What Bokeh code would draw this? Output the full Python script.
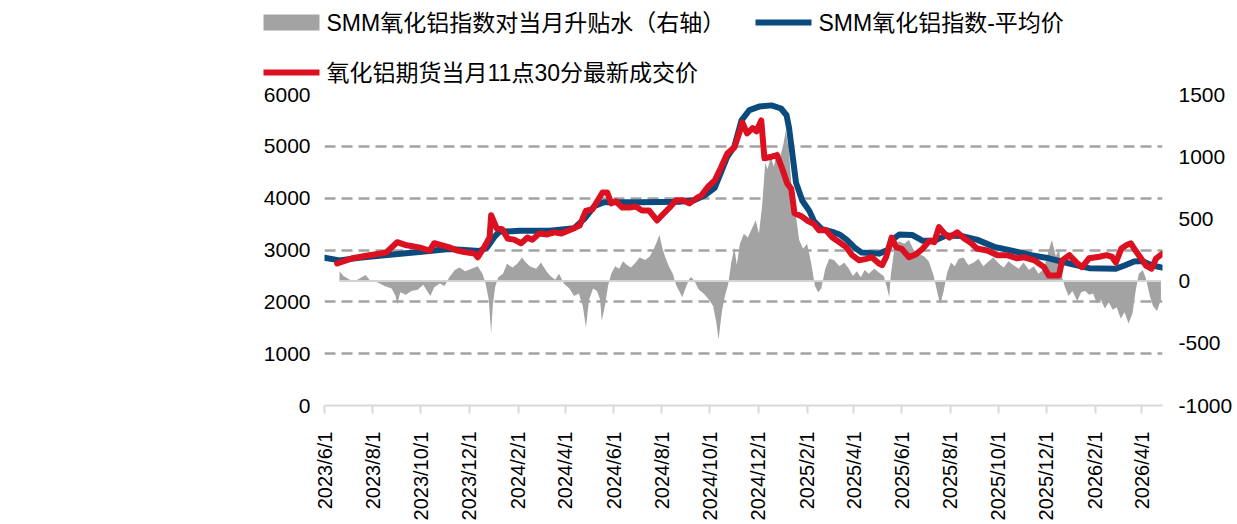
import math
import pandas as pd
from bokeh.plotting import figure
from bokeh.layouts import column
from bokeh.models import (ColumnDataSource, Range1d, LinearAxis, FixedTicker, Label,
                          BoxAnnotation, CustomJSTickFormatter)
from bokeh.embed import file_html
from bokeh.resources import INLINE

# ---------------- data ----------------
basis_dates = [
    "2023-06-20", "2023-06-25", "2023-07-03", "2023-07-10", "2023-07-18", "2023-07-23", "2023-07-28",
    "2023-08-07", "2023-08-16", "2023-08-25", "2023-08-30", "2023-09-01", "2023-09-05", "2023-09-12",
    "2023-09-19", "2023-09-27", "2023-10-04", "2023-10-09", "2023-10-13", "2023-10-18", "2023-10-25",
    "2023-10-31", "2023-11-06", "2023-11-13", "2023-11-19", "2023-11-26", "2023-12-04", "2023-12-12",
    "2023-12-18", "2023-12-22", "2023-12-26", "2023-12-29", "2023-12-31", "2024-01-03", "2024-01-07",
    "2024-01-13", "2024-01-18", "2024-01-25", "2024-01-31", "2024-02-06", "2024-02-11", "2024-02-16",
    "2024-02-24", "2024-03-01", "2024-03-08", "2024-03-13", "2024-03-19", "2024-03-24", "2024-03-30",
    "2024-04-06", "2024-04-12", "2024-04-18", "2024-04-23", "2024-04-27", "2024-05-01", "2024-05-06",
    "2024-05-11", "2024-05-15", "2024-05-17", "2024-05-21", "2024-05-25", "2024-05-29", "2024-06-03",
    "2024-06-08", "2024-06-13", "2024-06-18", "2024-06-23", "2024-06-29", "2024-07-04", "2024-07-11",
    "2024-07-17", "2024-07-22", "2024-07-26", "2024-07-29", "2024-08-02", "2024-08-05", "2024-08-10",
    "2024-08-15", "2024-08-19", "2024-08-23", "2024-08-27", "2024-08-31", "2024-09-05", "2024-09-08",
    "2024-09-13", "2024-09-17", "2024-09-23", "2024-09-30", "2024-10-05", "2024-10-09", "2024-10-12",
    "2024-10-16", "2024-10-20", "2024-10-24", "2024-10-28", "2024-11-01", "2024-11-04", "2024-11-08",
    "2024-11-13", "2024-11-18", "2024-11-23", "2024-11-28", "2024-12-02", "2024-12-06", "2024-12-10",
    "2024-12-13", "2024-12-17", "2024-12-21", "2024-12-25", "2024-12-29", "2025-01-02", "2025-01-05",
    "2025-01-09", "2025-01-13", "2025-01-18", "2025-01-22", "2025-01-27", "2025-02-01", "2025-02-06",
    "2025-02-11", "2025-02-15", "2025-02-19", "2025-02-24", "2025-03-01", "2025-03-07", "2025-03-14",
    "2025-03-20", "2025-03-26", "2025-03-31", "2025-04-05", "2025-04-10", "2025-04-15", "2025-04-20",
    "2025-04-27", "2025-05-03", "2025-05-09", "2025-05-13", "2025-05-16", "2025-05-18", "2025-05-23",
    "2025-05-28", "2025-06-04", "2025-06-10", "2025-06-16", "2025-06-22", "2025-06-29", "2025-07-05",
    "2025-07-11", "2025-07-18", "2025-07-20", "2025-07-24", "2025-07-28", "2025-08-02", "2025-08-07",
    "2025-08-12", "2025-08-18", "2025-08-24", "2025-08-31", "2025-09-06", "2025-09-12", "2025-09-19",
    "2025-09-25", "2025-10-02", "2025-10-08", "2025-10-14", "2025-10-20", "2025-10-27", "2025-11-02",
    "2025-11-09", "2025-11-15", "2025-11-21", "2025-11-28", "2025-12-04", "2025-12-08", "2025-12-13",
    "2025-12-17", "2025-12-21", "2025-12-24", "2025-12-29", "2026-01-03", "2026-01-09", "2026-01-14",
    "2026-01-19", "2026-01-24", "2026-01-29", "2026-02-03", "2026-02-08", "2026-02-13", "2026-02-18",
    "2026-02-23", "2026-02-28", "2026-03-05", "2026-03-10", "2026-03-15", "2026-03-20", "2026-03-24",
    "2026-03-28", "2026-04-02", "2026-04-06", "2026-04-11", "2026-04-15", "2026-04-20", "2026-04-25",
]
basis_values = [
    80, 40, 10, 0, 30, 50, 10,
    -10, -40, -60, -120, -190, -90, -110,
    -80, -70, -30, -80, -120, -50, -20,
    -40, 30, 90, 110, 80, 100, 120,
    60, -20, -150, -420, -200, -50, 30,
    60, 140, 110, 140, 190, 150, 120,
    100, 150, 80, 40, 10, 60, -20,
    -60, -120, -100, -200, -370, -150, -60,
    -80, -150, -320, -200, -40, 60, 120,
    100, 160, 130, 110, 150, 190, 170,
    200, 260, 320, 370, 260, 200, 120,
    60, -30, -80, -130, -60, 20, 30,
    -20, -70, -100, -150, -200, -330, -470,
    -250, -120, -30, 150, 270, 130, 300,
    380, 350, 420, 490, 380, 600, 950,
    900, 1000, 920, 1050, 1000, 1100, 1210,
    1050, 700, 520, 330, 260, 300, 150,
    -40, -90, -60, 100, 180, 170, 120,
    150, 100, 40, 80, 30, 90, 60,
    100, 70, 40, -50, -130, 50, 280,
    320, 300, 330, 250, 220, 200, 160,
    50, -150, -180, -80, 60, 150, 120,
    180, 190, 130, 150, 180, 120, 160,
    190, 140, 110, 160, 130, 100, 150,
    90, 120, 60, 100, 250, 330, 200,
    260, 30, -40, -120, -80, -160, -90,
    -80, -110, -100, -180, -150, -220, -170,
    -230, -210, -300, -250, -340, -260, -80,
    60, 90, 20, -120, -200, -240, -150,
]

avg_dates = [
    "2023-06-01", "2023-06-20", "2023-07-15", "2023-08-16", "2023-09-29", "2023-10-24", "2023-11-06",
    "2023-11-25", "2023-12-14", "2023-12-24", "2024-01-02", "2024-01-08", "2024-02-03", "2024-03-12",
    "2024-03-31", "2024-04-12", "2024-04-25", "2024-05-08", "2024-05-20", "2024-07-04", "2024-08-23",
    "2024-09-11", "2024-09-24", "2024-10-07", "2024-10-15", "2024-10-23", "2024-11-01", "2024-11-10",
    "2024-11-20", "2024-12-03", "2024-12-18", "2024-12-30", "2025-01-06", "2025-01-09", "2025-01-13",
    "2025-01-18", "2025-01-26", "2025-02-04", "2025-02-10", "2025-02-20", "2025-03-05", "2025-03-14",
    "2025-03-23", "2025-04-02", "2025-04-11", "2025-05-03", "2025-05-14", "2025-05-20", "2025-05-29",
    "2025-06-14", "2025-06-27", "2025-07-12", "2025-07-27", "2025-08-15", "2025-09-04", "2025-09-26",
    "2025-10-17", "2025-11-12", "2025-12-04", "2025-12-30", "2026-01-24", "2026-02-27", "2026-03-10",
    "2026-03-22", "2026-04-01", "2026-04-14", "2026-04-27",
]
avg_values = [
    2850, 2800, 2850, 2900, 2960, 3000, 3020,
    3000, 2980, 3050, 3250, 3350, 3370, 3370,
    3400, 3420, 3600, 3850, 3920, 3920, 3930,
    3960, 4050, 4200, 4500, 4800, 5000, 5500,
    5700, 5770, 5790, 5730, 5600, 5370, 4900,
    4300, 3950, 3750, 3550, 3400, 3350, 3300,
    3200, 3050, 2950, 2930, 3000, 3200, 3300,
    3290, 3180, 3180, 3280, 3270, 3200, 3060,
    2990, 2900, 2840, 2740, 2650, 2640, 2700,
    2780, 2790, 2700, 2660,
]

fut_dates = [
    "2023-06-17", "2023-07-06", "2023-07-28", "2023-08-18", "2023-09-01", "2023-09-13", "2023-09-29",
    "2023-10-12", "2023-10-18", "2023-10-28", "2023-11-06", "2023-11-16", "2023-11-25", "2023-12-08",
    "2023-12-12", "2023-12-20", "2023-12-27", "2023-12-29", "2024-01-05", "2024-01-12", "2024-01-19",
    "2024-01-27", "2024-02-05", "2024-02-13", "2024-02-19", "2024-02-28", "2024-03-09", "2024-03-18",
    "2024-03-27", "2024-04-06", "2024-04-19", "2024-04-27", "2024-05-05", "2024-05-18", "2024-05-24",
    "2024-05-29", "2024-06-04", "2024-06-12", "2024-06-21", "2024-06-29", "2024-07-07", "2024-07-16",
    "2024-07-26", "2024-08-02", "2024-08-11", "2024-08-19", "2024-08-27", "2024-09-05", "2024-09-15",
    "2024-09-20", "2024-09-28", "2024-10-07", "2024-10-15", "2024-10-23", "2024-11-01", "2024-11-07",
    "2024-11-11", "2024-11-17", "2024-11-24", "2024-11-29", "2024-12-05", "2024-12-09", "2024-12-18",
    "2024-12-25", "2024-12-31", "2025-01-07", "2025-01-12", "2025-01-16", "2025-01-25", "2025-02-01",
    "2025-02-10", "2025-02-16", "2025-02-25", "2025-03-05", "2025-03-14", "2025-03-23", "2025-03-30",
    "2025-04-08", "2025-04-17", "2025-04-24", "2025-05-03", "2025-05-07", "2025-05-12", "2025-05-19",
    "2025-05-25", "2025-06-01", "2025-06-10", "2025-06-19", "2025-06-27", "2025-07-06", "2025-07-12",
    "2025-07-18", "2025-07-25", "2025-07-31", "2025-08-06", "2025-08-10", "2025-08-19", "2025-08-28",
    "2025-09-04", "2025-09-17", "2025-09-30", "2025-10-12", "2025-10-25", "2025-11-03", "2025-11-16",
    "2025-11-28", "2025-12-04", "2025-12-17", "2025-12-21", "2025-12-30", "2026-01-08", "2026-01-15",
    "2026-01-24", "2026-02-06", "2026-02-15", "2026-02-22", "2026-02-27", "2026-03-06", "2026-03-12",
    "2026-03-18", "2026-03-22", "2026-03-28", "2026-04-06", "2026-04-13", "2026-04-19", "2026-04-27",
]
fut_values = [
    2740, 2840, 2900, 2950, 3150, 3090, 3050,
    2990, 3130, 3090, 3050, 2990, 2960, 2930,
    2860, 3050, 3240, 3670, 3420, 3400, 3220,
    3200, 3130, 3240, 3200, 3320, 3300, 3340,
    3320, 3380, 3470, 3760, 3780, 4110, 4110,
    3900, 3940, 3820, 3820, 3840, 3760, 3760,
    3570, 3680, 3820, 3960, 3960, 3900, 4010,
    4050, 4210, 4340, 4590, 4860, 4980, 5250,
    5460, 5250, 5350, 5290, 5500, 4770, 4800,
    4830, 4590, 4280, 4180, 3710, 3650, 3570,
    3500, 3380, 3380, 3240, 3150, 3050, 2900,
    2800, 2830, 2860, 2740, 2710, 2860, 3240,
    3050, 3020, 2860, 2920, 3020, 3180, 3150,
    3440, 3320, 3240, 3300, 3340, 3220, 3130,
    3030, 2990, 2900, 2900, 2840, 2860, 2800,
    2670, 2510, 2510, 2800, 2900, 2760, 2670,
    2840, 2870, 2900, 2870, 2760, 3030, 3090,
    3130, 3030, 2900, 2700, 2640, 2840, 2930,
]

x_tick_dates = pd.date_range("2023-06-01", "2026-04-01", freq="2MS")
left_ticks = [0, 1000, 2000, 3000, 4000, 5000, 6000]
right_ticks = [-1000, -500, 0, 500, 1000, 1500]

label_basis = "SMM氧化铝指数对当月升贴水（右轴）"
label_avg = "SMM氧化铝指数-平均价"
label_fut = "氧化铝期货当月11点30分最新成交价"

# ---------------- style ----------------
FONT = "Liberation Sans, Noto Sans CJK SC"
GRAY = "#a3a3a3"
BLUE = "#0b4a7c"
RED = "#db1020"

# ---------------- legend strip (own small figure, pixel units, y up) ----------------
LEG_W, LEG_H = 1150, 84
leg_fig = figure(width=LEG_W, height=LEG_H, x_range=Range1d(0, LEG_W), y_range=Range1d(0, LEG_H),
                 x_axis_type=None, y_axis_type=None, min_border=0,
                 output_backend="svg", toolbar_location=None)
leg_fig.outline_line_color = None
leg_fig.xgrid.visible = False
leg_fig.ygrid.visible = False
try:
    leg_fig.frame_align = False
except Exception:
    pass

ROW1 = LEG_H - 22   # centre line of legend row 1
ROW2 = LEG_H - 72   # centre line of legend row 2
KEY_W = 56
items = [
    # (key x, row y, kind, colour, label)
    (263, ROW1, "box", GRAY, label_basis),
    (755, ROW1, "line", BLUE, label_avg),
    (263, ROW2, "line", RED, label_fut),
]
for kx, ky, kind, colour, text in items:
    if kind == "box":
        leg_fig.add_layout(BoxAnnotation(left=kx, right=kx + KEY_W, bottom=ky - 8, top=ky + 8,
                                         fill_color=colour, fill_alpha=1.0, line_color=None))
    else:
        leg_fig.segment(x0=[kx], y0=[ky], x1=[kx + KEY_W], y1=[ky], line_color=colour,
                        line_width=6)
    leg_fig.add_layout(Label(x=kx + KEY_W + 7, y=ky, text=text, text_baseline="middle",
                             text_align="left", text_font=FONT, text_font_size="23px",
                             text_color="black"))

# ---------------- main chart ----------------
p = figure(
    x_axis_type="datetime",
    frame_width=838, frame_height=311,
    min_border_left=324, min_border_top=10, min_border_right=60, min_border_bottom=5,
    x_range=Range1d(pd.Timestamp("2023-06-01"), pd.Timestamp("2026-04-27")),
    y_range=Range1d(0, 6000),
    output_backend="svg", toolbar_location=None,
)
try:
    p.frame_align = False
except Exception:
    pass
p.extra_y_ranges = {"right": Range1d(-1000, 1500)}
p.outline_line_color = None
p.background_fill_color = "white"
p.border_fill_color = "white"

basis_src = ColumnDataSource(dict(date=pd.to_datetime(basis_dates), v=basis_values,
                                  zero=[0] * len(basis_values)))
avg_src = ColumnDataSource(dict(date=pd.to_datetime(avg_dates), v=avg_values))
fut_src = ColumnDataSource(dict(date=pd.to_datetime(fut_dates), v=fut_values))

p.varea(x="date", y1="zero", y2="v", source=basis_src, y_range_name="right",
        fill_color=GRAY, fill_alpha=1.0)
p.line(x="date", y="zero", source=basis_src, y_range_name="right",
       line_color="#d4d4d4", line_width=2)
p.line(x="date", y="v", source=avg_src, line_color=BLUE, line_width=6,
       line_join="round", line_cap="round")
p.line(x="date", y="v", source=fut_src, line_color=RED, line_width=6,
       line_join="round", line_cap="round")

# grid
p.xgrid.visible = False
p.ygrid.ticker = FixedTicker(ticks=left_ticks[1:])
p.ygrid.grid_line_color = GRAY
p.ygrid.grid_line_width = 2.5
p.ygrid.grid_line_dash = "11 6"

# left axis
ya = p.yaxis[0]
ya.ticker = FixedTicker(ticks=left_ticks)
ya.formatter = CustomJSTickFormatter(code="return String(tick);")
ya.axis_line_color = None
ya.major_tick_line_color = None
ya.minor_tick_line_color = None
ya.major_label_standoff = 8
ya.major_label_text_font = FONT
ya.major_label_text_font_size = "21px"
ya.major_label_text_color = "black"

# right axis
ra = LinearAxis(y_range_name="right", ticker=FixedTicker(ticks=right_ticks),
                formatter=CustomJSTickFormatter(code="return String(tick);"))
ra.axis_line_color = None
ra.major_tick_line_color = None
ra.minor_tick_line_color = None
ra.major_label_standoff = 10
ra.major_label_text_font = FONT
ra.major_label_text_font_size = "21px"
ra.major_label_text_color = "black"
p.add_layout(ra, "right")

# x axis
xa = p.xaxis[0]
xa.ticker = FixedTicker(ticks=[int(d.value // 10**6) for d in x_tick_dates])
xa.formatter = CustomJSTickFormatter(code="""
const d = new Date(tick);
return d.getUTCFullYear() + '/' + (d.getUTCMonth() + 1) + '/' + d.getUTCDate();
""")
xa.major_label_orientation = math.pi / 2
xa.axis_line_color = "#d9d9d9"
xa.axis_line_width = 2
xa.major_tick_line_color = "#d9d9d9"
xa.major_tick_line_width = 2
xa.major_tick_out = 8
xa.major_tick_in = 0
xa.minor_tick_line_color = None
xa.major_label_standoff = 18
xa.major_label_text_font = FONT
xa.major_label_text_font_size = "20px"
xa.major_label_text_color = "black"

layout = column(leg_fig, p, spacing=0)
open("out.html", "w").write(file_html(layout, INLINE))
